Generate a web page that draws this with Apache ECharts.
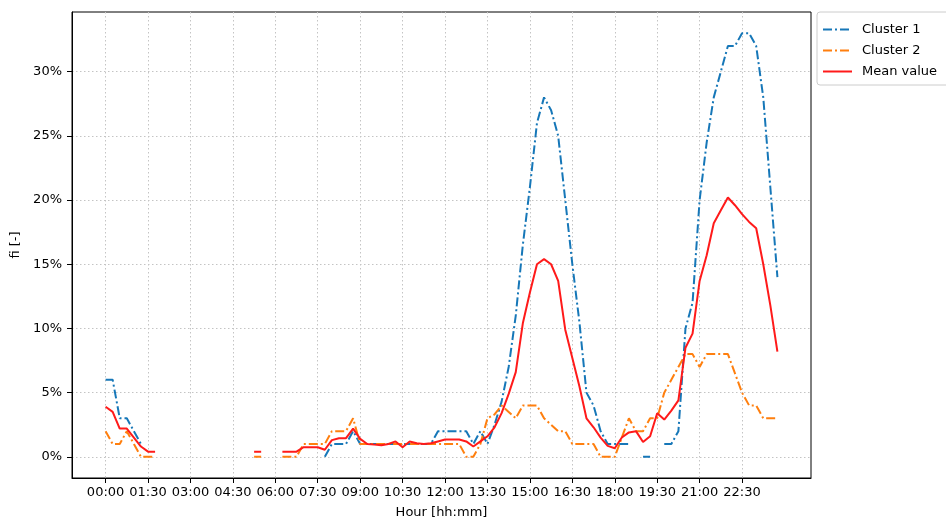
<!DOCTYPE html>
<html>
<head>
    <meta charset="utf-8">
    <title>Cluster profiles</title>
    <script src="https://cdn.jsdelivr.net/npm/echarts@6.0.0/dist/echarts.min.js"></script>
</head>
<style>
    body{ margin: 0; }
    #main{ width: 946px; height: 528px; }
</style>
<body>
<div id="main"></div>
<script>
    // x = index of the 15 min slot (0 = 00:00 ... 95 = 23:45), values in %
    var tickSlots = [0, 6, 12, 18, 24, 30, 36, 42, 48, 54, 60, 66, 72, 78, 84, 90];
    var tickLabels = ['00:00', '01:30', '03:00', '04:30', '06:00', '07:30', '09:00', '10:30',
        '12:00', '13:30', '15:00', '16:30', '18:00', '19:30', '21:00', '22:30'];
    var yTicks = [0, 5, 10, 15, 20, 25, 30];

    var cluster1 = [
        6, 6, 3, 3, 2, 1, null, null, null, null, null, null,
        null, null, null, null, null, null, null, null, null, null, null, null,
        null, null, null, null, null, null, null, 0, 1, 1, 1, 2,
        1, 1, 1, 1, 1, 1, 1, 1, 1, 1, 1, 2,
        2, 2, 2, 2, 1, 2, 1, 2.5, 4.3, 7, 11, 16.5,
        21, 26, 28, 27, 25, 20, 15, 10.5, 5, 4, 2, 1,
        1, 1, 1, null, 0, 0, null, 1, 1, 2, 10, 12,
        20, 24.5, 28, 30, 32, 32, 33, 33, 32, 28, 21, 14
    ];
    var cluster2 = [
        2, 1, 1, 2, 1, 0, 0, 0, null, null, null, null,
        null, null, null, null, null, null, null, null, null, 0, 0, null,
        null, 0, 0, 0, 1, 1, 1, 1, 2, 2, 2, 3,
        1, 1, 1, 1, 1, 1, 1, 1, 1, 1, 1, 1,
        1, 1, 1, 0, 0, 1, 3, 3.3, 4, 3.5, 3, 4,
        4, 4, 3, 2.5, 2, 2, 1, 1, 1, 1, 0, 0,
        0, 1.5, 3, 2, 2, 3, 3, 5, 6, 7, 8, 8,
        7, 8, 8, 8, 8, 6.5, 5, 4, 4, 3, 3, 3
    ];
    var meanValue = [
        3.9, 3.5, 2.2, 2.2, 1.5, 0.8, 0.4, 0.4, null, null, null, null,
        null, null, null, null, null, null, null, null, null, 0.4, 0.4, null,
        null, 0.4, 0.4, 0.4, 0.75, 0.75, 0.75, 0.55, 1.3, 1.45, 1.45, 2.2,
        1.4, 1.0, 0.95, 0.9, 1.0, 1.2, 0.75, 1.2, 1.05, 1.0, 1.05, 1.2,
        1.35, 1.35, 1.35, 1.2, 0.8, 1.2, 1.6, 2.3, 3.4, 4.9, 6.6, 10.4,
        12.8, 15.0, 15.4, 15.0, 13.7, 9.9, 7.7, 5.5, 3.0, 2.3, 1.5, 0.85,
        0.67, 1.5, 1.9, 2.0, 1.15, 1.6, 3.4, 2.9, 3.6, 4.4, 8.5, 9.6,
        13.7, 15.7, 18.2, 19.2, 20.2, 19.6, 18.9, 18.3, 17.8, 15.0, 11.8, 8.2
    ];

    function pairs(arr){
        var out = [];
        for (var i = 0; i < arr.length; i++) {
            out.push([i, arr[i]]);
        }
        return out;
    }

    var font = 'DejaVu Sans';
    var dashDot = [9, 3, 2, 3];
    var gridDots = {color: '#c4c4c4', type: [1.5, 2.5], width: 1};

    var myChart = echarts.init(document.getElementById('main'));
    var option = {
        animation: false,
        backgroundColor: '#fff',
        textStyle: {fontFamily: font},
        grid: {
            left: 72, right: 135, top: 12, bottom: 50,
            show: true, borderColor: '#000', borderWidth: 1,
            outerBoundsMode: 'none'
        },
        legend: {
            orient: 'vertical',
            left: 817, top: 12,
            padding: [11, 14, 7, 5],
            itemWidth: 29, itemHeight: 14, itemGap: 8,
            borderColor: '#ccc', borderWidth: 1, borderRadius: 3,
            itemStyle: {opacity: 0},
            textStyle: {fontFamily: font, fontSize: 13, color: '#000', padding: [0, 0, 0, 5]},
            data: ['Cluster 1', 'Cluster 2', 'Mean value']
        },
        xAxis: {
            type: 'value',
            min: -4.75, max: 99.75,
            name: 'Hour [hh:mm]',
            nameLocation: 'middle',
            nameGap: 28,
            nameTextStyle: {fontFamily: font, fontSize: 13, color: '#000'},
            axisLine: {show: true, onZero: false, lineStyle: {color: '#000', width: 1}},
            axisTick: {show: true, length: 5, lineStyle: {color: '#000'}, customValues: tickSlots},
            axisLabel: {
                fontFamily: font, fontSize: 13, color: '#000', margin: 8,
                customValues: tickSlots,
                formatter: function (v) { return tickLabels[tickSlots.indexOf(v)] || ''; }
            },
            splitLine: {show: true, lineStyle: gridDots}
        },
        yAxis: {
            type: 'value',
            min: -1.65, max: 34.65,
            name: 'fi [-]',
            nameLocation: 'middle',
            nameGap: 40,
            nameTextStyle: {fontFamily: font, fontSize: 13, color: '#000'},
            axisLine: {show: true, onZero: false, lineStyle: {color: '#000', width: 1}},
            axisTick: {show: true, length: 5, lineStyle: {color: '#000'}, customValues: yTicks},
            axisLabel: {
                fontFamily: font, fontSize: 13, color: '#000', margin: 10,
                customValues: yTicks,
                formatter: function (v) { return v + '%'; }
            },
            splitLine: {show: true, lineStyle: gridDots}
        },
        series: [
            {
                name: 'Cluster 1', type: 'line', data: pairs(cluster1),
                symbol: 'none', connectNulls: false,
                lineStyle: {color: '#1677b8', width: 2, type: dashDot},
                itemStyle: {color: '#1677b8'}
            },
            {
                name: 'Cluster 2', type: 'line', data: pairs(cluster2),
                symbol: 'none', connectNulls: false,
                lineStyle: {color: '#ff7f0e', width: 2, type: dashDot},
                itemStyle: {color: '#ff7f0e'}
            },
            {
                name: 'Mean value', type: 'line', data: pairs(meanValue),
                symbol: 'none', connectNulls: false,
                lineStyle: {color: '#ff1a1a', width: 2, type: 'solid'},
                itemStyle: {color: '#ff1a1a'}
            }
        ]
    };
    myChart.setOption(option);
</script>
</body>
</html>
